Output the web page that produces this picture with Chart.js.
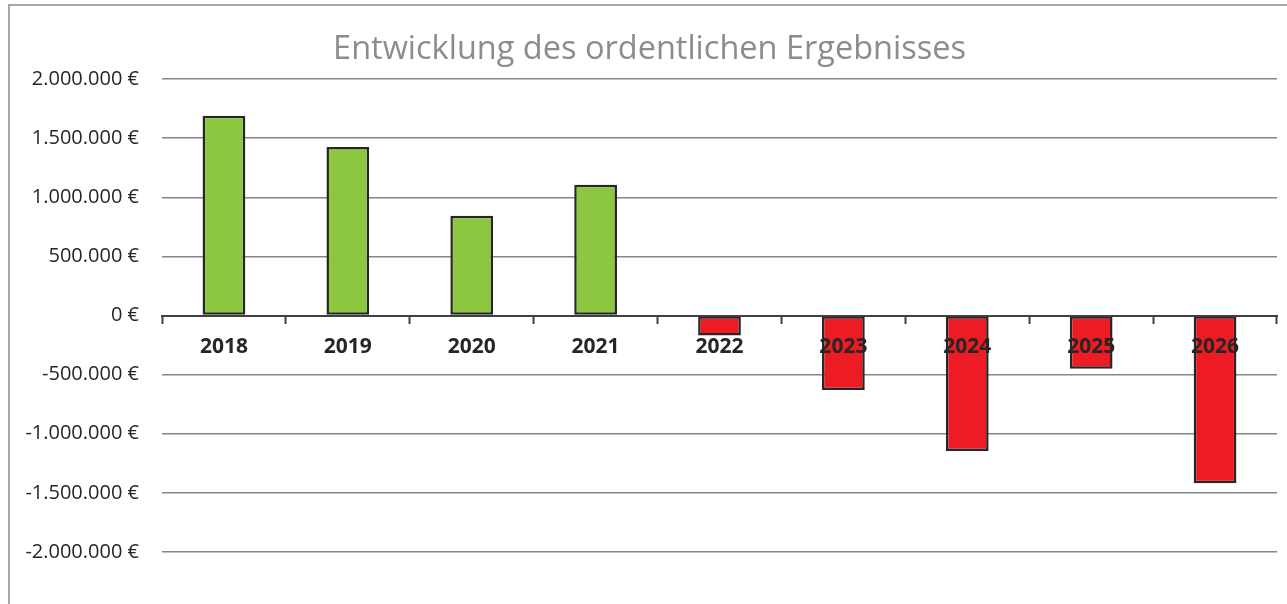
<!DOCTYPE html>
<html>
<head>
<meta charset="utf-8">
<script src="https://cdn.jsdelivr.net/npm/chart.js@4"></script>
<style>
  html, body { margin: 0; padding: 0; background: #ffffff; overflow: hidden; }
  #frame { position: absolute; left: 8px; top: 4px; width: 1400px; height: 700px;
           border-left: 2px solid #a8a8a8; border-top: 2px solid #a8a8a8; }
  #wrap { position: absolute; left: 0; top: 0; width: 1287px; height: 604px; }
</style>
</head>
<body>
<div id="frame"></div>
<div id="wrap"><canvas id="c" width="1287" height="604"></canvas></div>
<script>
const titleText = 'Entwicklung des ordentlichen Ergebnisses';
const years = ['2018', '2019', '2020', '2021', '2022', '2023', '2024', '2025', '2026'];
const ergebnis = [1690000, 1424000, 843000, 1106000, -169000, -629000, -1145000, -451000, -1419000];
const yTicks = [2000000, 1500000, 1000000, 500000, 0, -500000, -1000000, -1500000, -2000000];

const posColor = '#8dc63f';
const negColor = '#ed1c24';

function fmtEuro(v) {
  const s = Math.abs(v).toString().replace(/\B(?=(\d{3})+(?!\d))/g, '.');
  return (v < 0 ? '-' : '') + s + ' €';
}

new Chart(document.getElementById('c'), {
  type: 'bar',
  data: {
    labels: years,
    datasets: [{
      data: ergebnis,
      backgroundColor: ergebnis.map(v => v >= 0 ? posColor : negColor),
      borderColor: '#262626',
      borderWidth: 2.5,
      borderSkipped: false,
      barPercentage: 0.345,
      categoryPercentage: 1.0
    }]
  },
  options: {
    responsive: false,
    animation: false,
    layout: { padding: { left: 22, right: 10, top: 0, bottom: 52 } },
    plugins: {
      legend: { display: false },
      tooltip: { enabled: false },
      title: {
        display: true,
        text: titleText,
        color: '#8c8c8c',
        font: { family: 'Open Sans', size: 32.5, weight: 'normal', lineHeight: 1.2 },
        padding: { top: 30, bottom: 10 }
      }
    },
    scales: {
      x: {
        position: { y: 0 },
        grid: {
          display: true,
          drawOnChartArea: false,
          drawTicks: true,
          tickLength: 7,
          tickWidth: 2,
          tickColor: '#404040',
          offset: true,
          z: 1
        },
        border: { display: true, color: '#404040', width: 2, z: 1 },
        ticks: {
          z: 2,
          color: '#262626',
          padding: 12,
          maxRotation: 0,
          font: { family: 'Open Sans', size: 21, weight: 'bold' }
        },
        afterFit: s => { s.height = 0; }
      },
      y: {
        min: -2000000,
        max: 2000000,
        grid: { color: '#868686', lineWidth: 1.5, drawTicks: false },
        border: { display: false },
        afterBuildTicks: s => { s.ticks = yTicks.map(v => ({ value: v })); },
        afterFit: s => { s.width = 140; },
        ticks: {
          color: '#262626',
          padding: 23,
          font: { family: 'Open Sans', size: 20 },
          callback: v => fmtEuro(v)
        }
      }
    }
  }
});
</script>
</body>
</html>
